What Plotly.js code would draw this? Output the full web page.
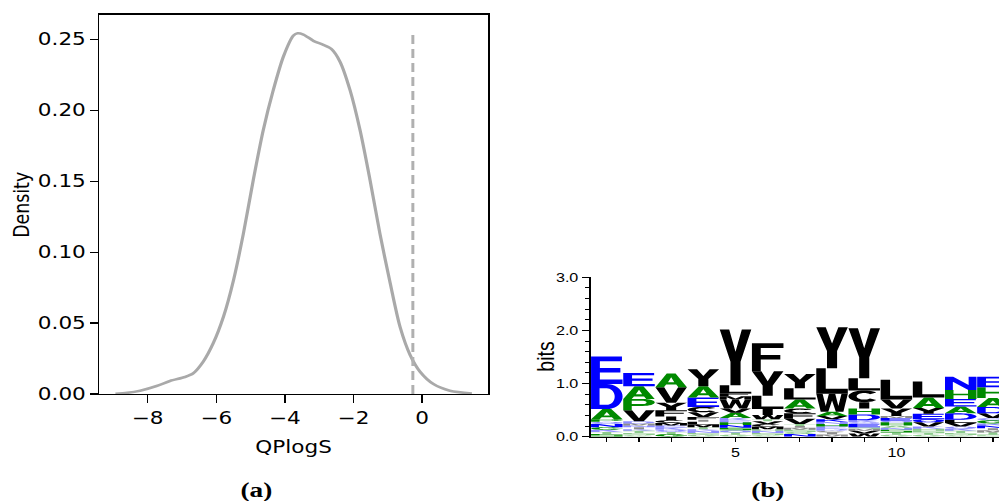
<!DOCTYPE html>
<html><head><meta charset="utf-8">
<script src="https://cdn.plot.ly/plotly-3.0.1.min.js"></script>
<style>
html,body{margin:0;padding:0;background:#fff;overflow:hidden;}
#wrap{width:999px;height:501px;overflow:hidden;}
#plot{width:806px;height:501px;transform:scaleX(1.2395);transform-origin:0 0;}
</style>
</head><body><div id="wrap"><div id="plot"></div></div>
<script>
// ---------- panel (a): density of QPlogS ----------
const qplogsX = [-8.94,-8.6,-8.22,-7.74,-7.35,-6.91,-6.67,-6.38,-6.09,-5.79,-5.50,-5.21,-4.92,-4.63,-4.34,-4.04,-3.75,-3.63,-3.46,-3.17,-2.88,-2.64,-2.39,-2.10,-1.81,-1.52,-1.23,-0.93,-0.64,-0.35,-0.06,0.33,0.81,1.45];
const densityY = [0.0002,0.0008,0.0023,0.0056,0.0092,0.012,0.0146,0.0228,0.0357,0.0545,0.080,0.113,0.151,0.186,0.214,0.238,0.2526,0.2542,0.2533,0.2489,0.246,0.243,0.234,0.214,0.186,0.151,0.113,0.078,0.047,0.0275,0.0157,0.007,0.0023,0.0003];
const thresholdX = [-0.27, -0.27];
const thresholdY = [0, 0.254];
const densXTickVals = [-8, -6, -4, -2, 0];
const densXTickText = ['\u22128', '\u22126', '\u22124', '\u22122', '0'];
const densYTickVals = [0, 0.05, 0.10, 0.15, 0.20, 0.25];

// ---------- panel (b): sequence logo (letters bottom -> top, heights in bits) ----------
const logoPositions = [1,2,3,4,5,6,7,8,9,10,11,12,13];
const logoTickText = ['','','','','5','','','','','10','','',''];
const bitsTickVals = [0, 1, 2, 3];
const col1Letters  = ['S','T','K','G','N','Q','P','A','D','E'];
const col1Bits     = [0.05,0.04,0.04,0.05,0.06,0.04,0.05,0.19,0.47,0.52];
const col2Letters  = ['G','S','T','K','I','N','M','D','V','P','A','E'];
const col2Bits     = [0.03,0.04,0.04,0.03,0.04,0.03,0.04,0.04,0.21,0.21,0.24,0.25];
const col3Letters  = ['G','T','Q','K','E','M','C','I','F','Y','V','A'];
const col3Bits     = [0.05,0.04,0.04,0.04,0.04,0.05,0.05,0.07,0.12,0.14,0.29,0.26];
const col4Letters  = ['G','S','N','K','T','M','L','I','F','V','C','E','A','Y'];
const col4Bits     = [0.04,0.03,0.04,0.03,0.04,0.05,0.05,0.04,0.05,0.09,0.10,0.18,0.21,0.32];
const col5Letters  = ['G','T','Q','S','N','H','E','K','A','V','W','M','F','L','Y'];
const col5Bits     = [0.04,0.04,0.04,0.05,0.05,0.05,0.04,0.04,0.10,0.08,0.17,0.06,0.06,0.15,1.05];
const col6Letters  = ['G','S','N','H','M','C','V','T','W','I','L','Y','F'];
const col6Bits     = [0.03,0.04,0.04,0.03,0.05,0.05,0.05,0.04,0.08,0.11,0.25,0.46,0.53];
const col7Letters  = ['N','G','S','M','I','T','V','F','C','A','L','Y'];
const col7Bits     = [0.05,0.04,0.04,0.04,0.03,0.04,0.10,0.10,0.09,0.17,0.21,0.27];
const col8Letters  = ['M','I','C','D','E','H','N','K','V','A','W','L','Y'];
const col8Bits     = [0.04,0.04,0.03,0.04,0.04,0.05,0.04,0.05,0.06,0.08,0.34,0.48,0.77];
const col9Letters  = ['W','V','M','S','E','Q','K','D','H','I','C','L','Y'];
const col9Bits     = [0.06,0.05,0.04,0.03,0.06,0.03,0.04,0.11,0.11,0.12,0.22,0.23,0.94];
const col10Letters = ['G','T','S','N','A','H','Q','E','M','Y','V','L'];
const col10Bits    = [0.04,0.04,0.05,0.04,0.04,0.06,0.03,0.05,0.04,0.14,0.17,0.37];
const col11Letters = ['G','T','S','H','K','V','Q','E','Y','A','L'];
const col11Bits    = [0.04,0.03,0.04,0.04,0.04,0.08,0.06,0.10,0.11,0.20,0.30];
const col12Letters = ['G','S','T','K','Q','V','L','D','A','E','H','N'];
const col12Bits    = [0.03,0.04,0.04,0.04,0.04,0.07,0.06,0.12,0.13,0.14,0.17,0.25];
const col13Letters = ['S','T','M','I','N','K','G','Q','V','D','A','H','E'];
const col13Bits    = [0.04,0.04,0.04,0.04,0.05,0.04,0.06,0.04,0.09,0.12,0.17,0.20,0.20];

const logoLetters = [col1Letters,col2Letters,col3Letters,col4Letters,col5Letters,col6Letters,col7Letters,col8Letters,col9Letters,col10Letters,col11Letters,col12Letters,col13Letters];
const logoBits = [col1Bits,col2Bits,col3Bits,col4Bits,col5Bits,col6Bits,col7Bits,col8Bits,col9Bits,col10Bits,col11Bits,col12Bits,col13Bits];

// ---------- glyph templates (unit box) ----------
function arc(cx, cy, rx, ry, a0, a1, n) {
  const p = [];
  for (let i = 0; i <= n; i++) {
    const a = (a0 + (a1 - a0) * i / n) * Math.PI / 180;
    p.push([cx + rx * Math.cos(a), cy + ry * Math.sin(a)]);
  }
  return p;
}
const GLYPHS = {
  A: [[[0,0],[0.27,0],[0.34,0.2],[0.66,0.2],[0.73,0],[1,0],[0.64,1],[0.36,1]], [[0.4,0.37],[0.6,0.37],[0.5,0.72]]],
  E: [[[0,0],[1,0],[1,0.17],[0.28,0.17],[0.28,0.42],[0.93,0.42],[0.93,0.58],[0.28,0.58],[0.28,0.83],[0.98,0.83],[0.98,1],[0,1]]],
  F: [[[0,0],[0.28,0],[0.28,0.42],[0.9,0.42],[0.9,0.58],[0.28,0.58],[0.28,0.83],[1,0.83],[1,1],[0,1]]],
  L: [[[0,0],[1,0],[1,0.19],[0.3,0.19],[0.3,1],[0,1]]],
  I: [[[0.34,0],[0.66,0],[0.66,1],[0.34,1]]],
  T: [[[0,1],[1,1],[1,0.82],[0.64,0.82],[0.64,0],[0.36,0],[0.36,0.82],[0,0.82]]],
  V: [[[0,1],[0.28,1],[0.5,0.28],[0.72,1],[1,1],[0.65,0],[0.35,0]]],
  Y: [[[0,1],[0.3,1],[0.5,0.6],[0.7,1],[1,1],[0.66,0.42],[0.66,0],[0.34,0],[0.34,0.42]]],
  W: [[[0,1],[0.2,1],[0.3,0.32],[0.4,1],[0.6,1],[0.7,0.32],[0.8,1],[1,1],[0.86,0],[0.62,0],[0.5,0.62],[0.38,0],[0.14,0]]],
  N: [[[0,0],[0.25,0],[0.25,0.62],[0.74,0],[1,0],[1,1],[0.75,1],[0.75,0.38],[0.26,1],[0,1]]],
  H: [[[0,0],[0.27,0],[0.27,0.42],[0.73,0.42],[0.73,0],[1,0],[1,1],[0.73,1],[0.73,0.59],[0.27,0.59],[0.27,1],[0,1]]],
  K: [[[0,0],[0.27,0],[0.27,0.35],[0.39,0.48],[0.72,0],[1,0],[0.57,0.64],[0.98,1],[0.64,1],[0.27,0.62],[0.27,1],[0,1]]],
  M: [[[0,0],[0.22,0],[0.22,0.72],[0.4,0],[0.6,0],[0.78,0.72],[0.78,0],[1,0],[1,1],[0.68,1],[0.5,0.35],[0.32,1],[0,1]]],
  S: [[[0,0],[1,0],[1,0.58],[0.27,0.58],[0.27,0.8],[1,0.8],[1,1],[0,1],[0,0.42],[0.73,0.42],[0.73,0.2],[0,0.2]]],
  D: [[[0,0]].concat(arc(0.5,0.5,0.5,0.5,-90,90,18)).concat([[0,1]]),
      [[0.27,0.17]].concat(arc(0.5,0.5,0.25,0.33,-90,90,18)).concat([[0.27,0.83]])],
  P: [[[0,0],[0.27,0],[0.27,0.38]].concat(arc(0.62,0.69,0.38,0.31,-90,90,16)).concat([[0,1]]),
      [[0.27,0.54]].concat(arc(0.6,0.69,0.14,0.15,-90,90,12)).concat([[0.27,0.84]])],
  C: [arc(0.5,0.5,0.5,0.5,40,320,28).concat(arc(0.5,0.5,0.24,0.28,320,40,28))],
  O: [arc(0.5,0.5,0.5,0.5,0,360,40), arc(0.5,0.5,0.24,0.28,0,360,40)],
  G: [arc(0.5,0.5,0.5,0.5,35,330,28).concat(arc(0.5,0.5,0.24,0.28,330,35,28)), [[0.55,0.38],[1,0.38],[1,0.52],[0.55,0.52]]]
};
GLYPHS.Q = GLYPHS.O;

const BLUE = '#0000ff', GREEN = '#008a00', BLACK = '#000000';
function letterColor(c) {
  if ('RKDENQ'.indexOf(c) >= 0) return BLUE;
  if ('SGHTAP'.indexOf(c) >= 0) return GREEN;
  return BLACK;
}
function glyphPath(c, x0, x1, y0, y1) {
  return GLYPHS[c].map(sp => 'M' + sp.map(([u, v]) =>
    (x0 + u * (x1 - x0)).toFixed(4) + ',' + (y0 + v * (y1 - y0)).toFixed(5)).join('L') + 'Z').join('');
}

const shapes = [];
logoPositions.forEach((pos, i) => {
  let base = 0;
  logoLetters[i].forEach((c, j) => {
    const h = logoBits[i][j];
    shapes.push({
      type: 'path', xref: 'x2', yref: 'y2', layer: 'above',
      path: glyphPath(c, pos - 0.49, pos + 0.49, base, base + h),
      fillcolor: letterColor(c), fillrule: 'evenodd',
      opacity: h < 0.045 ? 0.45 : 1,
      line: {width: 0}
    });
    base += h;
  });
});

const traces = [
  {x: qplogsX, y: densityY, type: 'scatter', mode: 'lines', xaxis: 'x', yaxis: 'y',
   line: {color: '#a9a9a9', width: 2.6, shape: 'spline', smoothing: 0.8}, hoverinfo: 'skip'},
  {x: thresholdX, y: thresholdY, type: 'scatter', mode: 'lines', xaxis: 'x', yaxis: 'y',
   line: {color: '#b0b0b0', width: 2.4, dash: '9px,5px'}, hoverinfo: 'skip'},
  {x: logoPositions, y: logoPositions.map(() => 0), type: 'scatter', mode: 'markers', xaxis: 'x2', yaxis: 'y2',
   marker: {opacity: 0}, hoverinfo: 'skip'}
];

const fA = {family: 'DejaVu Sans', size: 17.4, color: '#000'};
const fB = {family: 'Liberation Sans, Arial, sans-serif', size: 13, color: '#000'};

const layout = {
  width: 806, height: 501,
  margin: {l: 0, r: 0, t: 0, b: 0},
  paper_bgcolor: '#fff', plot_bgcolor: 'rgba(0,0,0,0)',
  showlegend: false,
  xaxis: {domain: [0.0994, 0.4888], range: [-9.41, 1.93], tickvals: densXTickVals, ticktext: densXTickText,
    ticks: 'outside', ticklen: 7.5, tickwidth: 1.1, tickcolor: '#000', showline: true, mirror: true,
    linecolor: '#000', linewidth: 1.2, showgrid: false, zeroline: false, tickfont: fA, anchor: 'y'},
  yaxis: {domain: [0.2136, 0.9707], range: [0, 0.2673], tickvals: densYTickVals, tickformat: '.2f',
    ticks: 'outside', ticklen: 6.2, tickwidth: 1.1, tickcolor: '#000', showline: true, mirror: true,
    linecolor: '#000', linewidth: 1.2, showgrid: false, zeroline: false, tickfont: fA, anchor: 'x'},
  xaxis2: {domain: [0.5913, 1.0], range: [0.5, 13.19], tickvals: logoPositions, ticktext: logoTickText,
    ticks: 'outside', ticklen: 3.5, tickwidth: 1, tickcolor: '#000', showline: true, linecolor: '#000', linewidth: 1.3,
    showgrid: false, zeroline: false, tickfont: fB, anchor: 'y2'},
  yaxis2: {domain: [0.1283, 0.4465], range: [0, 3], tickvals: bitsTickVals, tickformat: '.1f',
    ticks: 'outside', ticklen: 6.2, tickwidth: 1, tickcolor: '#000', showline: true, linecolor: '#000', linewidth: 1.2,
    minor: {dtick: 0.2, ticks: 'outside', ticklen: 3.5, tickwidth: 1, tickcolor: '#000'},
    showgrid: false, zeroline: false, tickfont: fB, anchor: 'x2'},
  shapes: shapes,
  annotations: [
    {text: 'Density', xref: 'paper', yref: 'paper', x: 0.0213, y: 0.5914, textangle: -90, showarrow: false,
     xanchor: 'center', yanchor: 'middle', font: fA},
    {text: 'QPlogS', xref: 'paper', yref: 'paper', x: 0.2936, y: 0.1084, showarrow: false,
     xanchor: 'center', yanchor: 'middle', font: fA},
    {text: 'bits', xref: 'paper', yref: 'paper', x: 0.5455, y: 0.2894, textangle: -90, showarrow: false,
     xanchor: 'center', yanchor: 'middle', font: {family: 'Liberation Sans, Arial, sans-serif', size: 19.5, color: '#000'}},
    {text: '<b>(a)</b>', xref: 'paper', yref: 'paper', x: 0.257, y: 0.022, showarrow: false,
     xanchor: 'center', yanchor: 'middle', font: {family: 'Liberation Serif, serif', size: 22, color: '#000'}},
    {text: '<b>(b)</b>', xref: 'paper', yref: 'paper', x: 0.7688, y: 0.022, showarrow: false,
     xanchor: 'center', yanchor: 'middle', font: {family: 'Liberation Serif, serif', size: 22, color: '#000'}}
  ]
};

Plotly.newPlot('plot', traces, layout, {staticPlot: true, displayModeBar: false});
</script>
</body></html>
